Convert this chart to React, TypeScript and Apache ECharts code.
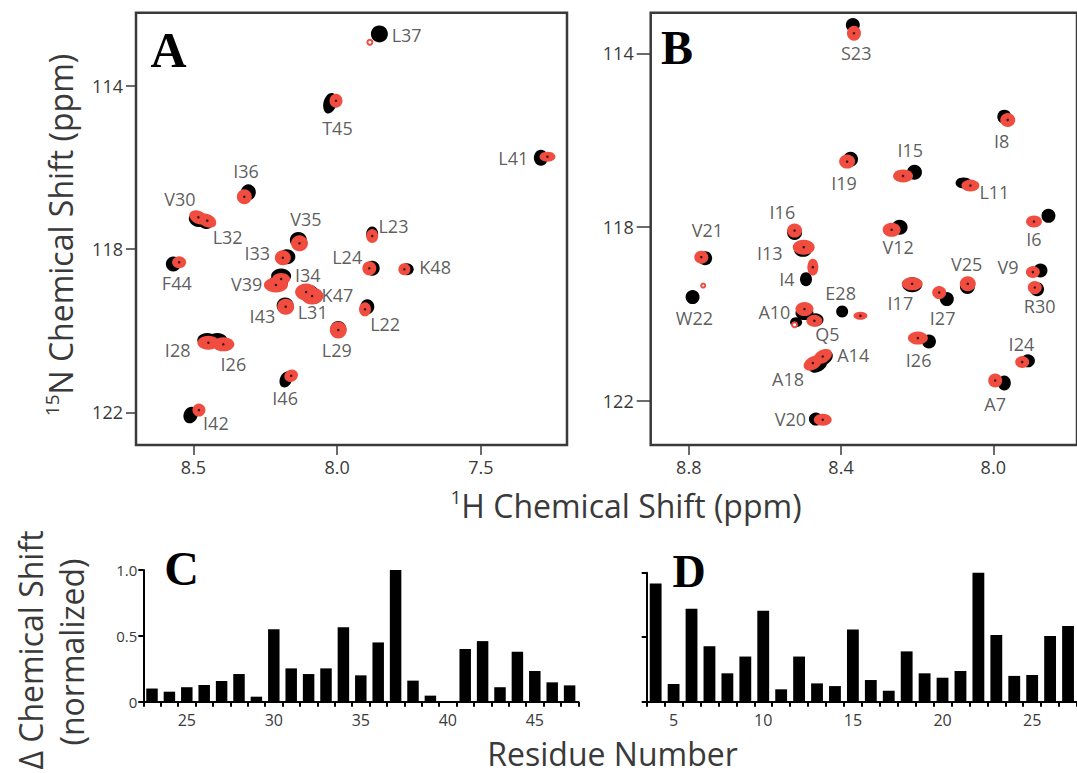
import React, { useEffect, useRef } from "react";
import * as echarts from "echarts";

const FONT = '"Open Sans", "Noto Sans", sans-serif';
const SERIF = '"Liberation Serif", "DejaVu Serif", serif';
const INK = "#3a3a3a";
const RED = "#f04c40";

// ---------- Panel A (residues 22-48) : [1H ppm, 15N ppm] ----------
const residuesA = ["L37", "T45", "L41", "I36", "V30", "L32", "V35", "I33", "L23", "L24", "K48", "F44", "I34", "V39", "K47", "L31", "I43", "L22", "L29", "I28", "I26", "I46", "I42"];
const blackA: [number, number][] = [
  [7.853, 112.72], [8.025, 114.42], [7.291, 115.756], [8.309, 116.604], [8.488, 117.283], [8.46, 117.332],
  [8.135, 117.774], [8.175, 118.183], [7.878, 117.627], [7.878, 118.468], [7.758, 118.492], [8.57, 118.362],
  [8.195, 118.657], [8.206, 118.828], [8.1, 119.066], [8.084, 119.147], [8.181, 119.38], [7.895, 119.409],
  [7.996, 119.956], [8.452, 120.226], [8.417, 120.226], [8.178, 121.19], [8.51, 122.065],
];
const redA: [number, number][] = [
  [7.886, 112.926], [8.004, 114.358], [7.268, 115.731], [8.323, 116.712], [8.483, 117.217], [8.452, 117.3],
  [8.131, 117.855], [8.189, 118.208], [7.878, 117.676], [7.888, 118.468], [7.766, 118.492], [8.55, 118.321],
  [8.195, 118.73], [8.213, 118.877], [8.108, 119.049], [8.087, 119.147], [8.179, 119.409], [7.903, 119.473],
  [7.996, 119.981], [8.448, 120.292], [8.396, 120.332], [8.16, 121.101], [8.481, 121.943],
];
const labelAtA: [number, number][] = [
  [7.758, 112.747], [7.999, 115.035], [7.387, 115.756], [8.317, 116.074], [8.547, 116.776], [8.381, 117.693],
  [8.109, 117.266], [8.278, 118.1], [7.804, 117.43], [7.965, 118.183], [7.659, 118.443], [8.558, 118.836],
  [8.102, 118.632], [8.315, 118.852], [7.999, 119.123], [8.085, 119.532], [8.26, 119.637], [7.833, 119.834],
  [8.001, 120.471], [8.555, 120.471], [8.361, 120.815], [8.181, 121.641], [8.422, 122.269],
];

// ---------- Panel B (residues 4-30) ----------
const residuesB = ["S23", "I8", "I19", "I15", "L11", "I6", "V12", "I16", "V21", "I13", "I4", "V25", "V9", "R30", "I17", "I27", "E28", "W22", "A10", "Q5", "A14", "A18", "I26", "I24", "A7", "V20"];
const blackB: [number, number][] = [
  [8.369, 113.343], [7.971, 115.455], [8.375, 116.436], [8.207, 116.735], [8.078, 116.981], [7.855, 117.741],
  [8.246, 118.001], [8.522, 118.126], [8.757, 118.715], [8.5, 118.524], [8.492, 119.199], [8.068, 119.369],
  [7.876, 119.0], [7.885, 119.429], [8.213, 119.33], [8.122, 119.659], [8.397, 119.945], [8.79, 119.613],
  [8.496, 119.981], [8.467, 120.136], [8.446, 121.018], [8.461, 121.172], [8.169, 120.635], [7.909, 121.08],
  [7.971, 121.593], [8.466, 122.422],
];
const redB: [number, number][] = [
  [8.366, 113.534], [7.962, 115.531], [8.384, 116.491], [8.237, 116.82], [8.06, 117.043], [7.893, 117.872],
  [8.267, 118.063], [8.522, 118.08], [8.767, 118.692], [8.498, 118.462], [8.474, 118.922], [8.067, 119.307],
  [7.896, 119.037], [7.891, 119.392], [8.213, 119.307], [8.142, 119.507], [8.349, 120.044], [8.762, 119.346],
  [8.496, 119.889], [8.47, 120.159], [8.448, 120.981], [8.474, 121.133], [8.198, 120.557], [7.924, 121.11],
  [7.995, 121.533], [8.448, 122.438],
];
const labelAtB: [number, number][] = [
  [8.36, 113.995], [7.978, 116.014], [8.392, 116.974], [8.218, 116.221], [7.997, 117.182], [7.893, 118.278],
  [8.25, 118.462], [8.554, 117.642], [8.751, 118.063], [8.587, 118.6], [8.542, 119.199], [8.07, 118.846],
  [7.961, 118.908], [7.878, 119.813], [8.244, 119.737], [8.133, 120.097], [8.401, 119.507], [8.785, 120.097],
  [8.575, 119.945], [8.436, 120.458], [8.368, 120.942], [8.539, 121.494], [8.196, 121.073], [7.926, 120.695],
  [7.995, 122.077], [8.533, 122.422],
];
const unassignedBlackB: [number, number][] = [[8.518, 120.19]];
const unassignedRedB: [number, number][] = [[8.522, 120.251]];

// ---------- Panels C and D ----------
const residuesC = [23, 24, 25, 26, 27, 28, 29, 30, 31, 32, 33, 34, 35, 36, 37, 38, 39, 40, 41, 42, 43, 44, 45, 46, 47];
const shiftC = [0.1, 0.076, 0.11, 0.127, 0.157, 0.21, 0.038, 0.55, 0.253, 0.21, 0.253, 0.565, 0.2, 0.45, 1.0, 0.16, 0.046, 0, 0.4, 0.46, 0.11, 0.38, 0.233, 0.147, 0.124];
const residuesD = [4, 5, 6, 7, 8, 9, 10, 11, 12, 13, 14, 15, 16, 17, 18, 19, 20, 21, 22, 23, 24, 25, 26, 27];
const shiftD = [0.917, 0.137, 0.72, 0.43, 0.22, 0.35, 0.705, 0.096, 0.35, 0.142, 0.121, 0.56, 0.168, 0.085, 0.39, 0.22, 0.186, 0.238, 1.0, 0.517, 0.2, 0.207, 0.51, 0.587];

const ticksA_H = [8.5, 8.0, 7.5];
const ticksB_H = [8.8, 8.4, 8.0];
const ticksN = [114, 118, 122];

// ---------- peak shapes (style, keyed by residue): [width, height, rotation°] ----------
type Shape = [number, number, number];
const blackShapeA: Record<string, Shape> = {
  L37: [17, 17, 0], T45: [13, 21, -15], L41: [14, 16, 0], I36: [15, 16, 0], V30: [17, 13, -25], L32: [17, 13, -25],
  V35: [17, 16, 0], I33: [17, 15, 0], L23: [12, 15, 0], L24: [15, 15, 0], K48: [14, 12, 0], F44: [15, 15, 0],
  I34: [20, 15, 0], V39: [20, 14, 0], K47: [20, 16, 0], L31: [20, 16, 0], I43: [17, 16, 0], L22: [14, 15, 0],
  L29: [16, 16, 0], I28: [20, 14, 0], I26: [20, 14, 0], I46: [12, 17, -25], I42: [14, 17, -20],
};
const redShapeA: Record<string, Shape> = {
  L37: [5, 5, 0], T45: [13, 14, 0], L41: [16, 10, 0], I36: [15, 15, 0], V30: [19, 13, -25], L32: [19, 13, -25],
  V35: [17, 16, 0], I33: [16, 15, 0], L23: [12, 14, 0], L24: [14, 14, 0], K48: [12, 12, 0], F44: [14, 12, 0],
  I34: [18, 12, 0], V39: [24, 15, 0], K47: [22, 17, 0], L31: [22, 17, 0], I43: [17, 16, 0], L22: [12, 14, 0],
  L29: [17, 17, 0], I28: [22, 14, 0], I26: [22, 14, 0], I46: [14, 12, 25], I42: [13, 13, 0],
};
const blackShapeB: Record<string, Shape> = {
  S23: [14, 14, 0], I8: [14, 14, 0], I19: [15, 15, 0], I15: [15, 15, 0], L11: [16, 11, 0], I6: [14, 14, 0],
  V12: [16, 15, 0], I16: [15, 15, 0], V21: [14, 14, 0], I13: [18, 14, 0], I4: [12, 14, 0], V25: [15, 15, 0],
  V9: [14, 14, 0], R30: [14, 14, 0], I17: [20, 15, 0], I27: [14, 14, 0], E28: [12, 12, 0], W22: [14, 14, 0],
  A10: [18, 14, 0], Q5: [16, 13, 0], A14: [20, 14, 30], A18: [20, 14, 30], I26: [14, 14, 0], I24: [14, 13, 0],
  A7: [13, 15, 0], V20: [14, 13, 0],
};
const redShapeB: Record<string, Shape> = {
  S23: [14, 15, 0], I8: [15, 14, 0], I19: [16, 14, 0], I15: [20, 13, 0], L11: [18, 12, 0], I6: [16, 12, 0],
  V12: [18, 14, 0], I16: [15, 14, 0], V21: [14, 13, 0], I13: [22, 15, 0], I4: [11, 17, 0], V25: [16, 15, 0],
  V9: [14, 12, 0], R30: [14, 13, 0], I17: [21, 13, 0], I27: [14, 13, 0], E28: [14, 8, 0], W22: [4, 4, 0],
  A10: [18, 14, 0], Q5: [16, 12, 0], A14: [20, 13, 30], A18: [20, 13, 30], I26: [20, 13, 0], I24: [14, 12, 0],
  A7: [14, 14, 0], V20: [18, 12, 0],
};
const ringPeaks = ["L37", "W22"];

function peaks(pts: [number, number][], names: string[], shapes: Record<string, Shape>, color: string) {
  return pts.map((p, i) => {
    const s = shapes[names[i]] || [14, 14, 0];
    const ring = color === RED && ringPeaks.includes(names[i]);
    return {
      name: names[i],
      value: p,
      symbol: ring ? "emptyCircle" : "circle",
      symbolSize: [s[0], s[1]],
      symbolRotate: s[2],
      itemStyle: ring ? { color: RED, borderColor: RED, borderWidth: 1.5, opacity: 1 } : { color, opacity: 1 },
    };
  });
}

function labels(pts: [number, number][], names: string[]) {
  return pts.map((p, i) => ({ name: names[i], value: p }));
}

function dots(pts: [number, number][], names: string[]) {
  return pts.filter((_, i) => !ringPeaks.includes(names[i])).map((p) => ({ value: p }));
}

function valueAxisH(grid: number, min: number, max: number, ticks: number[]) {
  return {
    gridIndex: grid, type: "value", min, max, inverse: true,
    axisLine: { show: false }, splitLine: { show: false },
    axisTick: { show: true, customValues: ticks, length: 10, lineStyle: { color: INK, width: 1.5 } },
    axisLabel: { customValues: ticks, formatter: (v: number) => v.toFixed(1), fontSize: 18, color: INK, fontFamily: FONT, margin: 13 },
  };
}
function valueAxisN(grid: number, min: number, max: number, tickLen: number) {
  return {
    gridIndex: grid, type: "value", min, max, inverse: true,
    axisLine: { show: false }, splitLine: { show: false },
    axisTick: { show: true, customValues: ticksN, length: tickLen, lineStyle: { color: INK, width: 1.5 } },
    axisLabel: { customValues: ticksN, formatter: (v: number) => String(v), fontSize: 18, color: INK, fontFamily: FONT, margin: tickLen + 3 },
  };
}
function barXAxis(grid: number, cats: number[]) {
  return {
    gridIndex: grid, type: "category", data: cats.map(String),
    axisLine: { show: true, lineStyle: { color: "#000", width: 2 } },
    axisTick: { show: true, interval: 0, length: 5, lineStyle: { color: "#000", width: 2 } },
    axisLabel: { interval: (_i: number, v: string) => Number(v) % 5 === 0, fontSize: 16, color: INK, fontFamily: FONT, margin: 10 },
  };
}
function barYAxis(grid: number, showLabels: boolean) {
  return {
    gridIndex: grid, type: "value", min: 0, max: 1, interval: 0.5,
    axisLine: { show: true, lineStyle: { color: "#000", width: 2 } },
    axisTick: { show: true, length: 5, lineStyle: { color: "#000", width: 2 } },
    splitLine: { show: false },
    axisLabel: { show: showLabels, formatter: (v: number) => (v === 0 ? "0" : v.toFixed(1)), fontSize: 15, color: INK, fontFamily: FONT, margin: 6 },
  };
}

const labelSeries = (grid: number, data: any[]) => ({
  type: "scatter", xAxisIndex: grid, yAxisIndex: grid, silent: true, z: 6, clip: false,
  symbol: "circle", symbolSize: 1, itemStyle: { color: "rgba(0,0,0,0)" },
  label: { show: true, position: "inside", formatter: "{b}", fontSize: 18, color: "#333", fontFamily: FONT },
  data,
});

const titleRich = {
  sup: { fontSize: 19, fontFamily: FONT, fill: INK, verticalAlign: "top", lineHeight: 36 },
  main: { fontSize: 32, fontFamily: FONT, fill: INK, verticalAlign: "middle", lineHeight: 36 },
};

export default function App() {
  const ref = useRef<HTMLDivElement>(null);
  useEffect(() => {
    if (!ref.current) return;
    const chart = echarts.init(ref.current, undefined, { renderer: "svg" });
    const option: any = {
      animation: false,
      backgroundColor: "#ffffff",
      grid: [
        { left: 136, top: 12.7, width: 431, height: 432.3, show: true, borderColor: INK, borderWidth: 2.5, backgroundColor: "transparent" },
        { left: 650.7, top: 12.7, width: 432.3, height: 432.3, show: true, borderColor: INK, borderWidth: 2.5, backgroundColor: "transparent" },
        { left: 143.3, top: 570, width: 435, height: 131.7 },
        { left: 646.7, top: 572.7, width: 432, height: 129 },
      ],
      xAxis: [
        valueAxisH(0, 7.2, 8.7, ticksA_H),
        valueAxisH(1, 7.78, 8.9, ticksB_H),
        barXAxis(2, residuesC),
        barXAxis(3, residuesD),
      ],
      yAxis: [
        valueAxisN(0, 112.2, 122.8, 10),
        valueAxisN(1, 113.06, 123.02, 14),
        barYAxis(2, true),
        barYAxis(3, false),
      ],
      series: [
        { type: "scatter", xAxisIndex: 0, yAxisIndex: 0, silent: true, z: 2, data: peaks(blackA, residuesA, blackShapeA, "#000") },
        { type: "scatter", xAxisIndex: 0, yAxisIndex: 0, silent: true, z: 3, data: peaks(redA, residuesA, redShapeA, RED) },
        { type: "scatter", xAxisIndex: 0, yAxisIndex: 0, silent: true, z: 4, symbolSize: 2.5, itemStyle: { color: "#3a1410", opacity: 1 }, data: dots(redA, residuesA) },
        labelSeries(0, labels(labelAtA, residuesA)),
        { type: "scatter", xAxisIndex: 1, yAxisIndex: 1, silent: true, z: 2, data: [...peaks(blackB, residuesB, blackShapeB, "#000"), ...unassignedBlackB.map((p) => ({ value: p, symbolSize: [12, 10], itemStyle: { color: "#000", opacity: 1 } }))] },
        { type: "scatter", xAxisIndex: 1, yAxisIndex: 1, silent: true, z: 3, data: [...peaks(redB, residuesB, redShapeB, RED), ...unassignedRedB.map((p) => ({ value: p, symbol: "emptyCircle", symbolSize: 5, itemStyle: { color: RED, borderColor: RED, borderWidth: 1.5, opacity: 1 } }))] },
        { type: "scatter", xAxisIndex: 1, yAxisIndex: 1, silent: true, z: 4, symbolSize: 2.5, itemStyle: { color: "#3a1410", opacity: 1 }, data: dots(redB, residuesB) },
        labelSeries(1, labels(labelAtB, residuesB)),
        { type: "bar", xAxisIndex: 2, yAxisIndex: 2, silent: true, barWidth: "66%", itemStyle: { color: "#000" }, data: shiftC },
        { type: "bar", xAxisIndex: 3, yAxisIndex: 3, silent: true, barWidth: "66%", itemStyle: { color: "#000" }, data: shiftD },
      ],
      graphic: [
        { type: "text", x: 168.5, y: 49.5, silent: true, style: { text: "A", fill: "#000", font: `bold 50px ${SERIF}`, align: "center", verticalAlign: "middle" } },
        { type: "text", x: 677, y: 47.5, silent: true, style: { text: "B", fill: "#000", font: `bold 48px ${SERIF}`, align: "center", verticalAlign: "middle" } },
        { type: "text", x: 181.7, y: 568.7, silent: true, style: { text: "C", fill: "#000", font: `bold 48px ${SERIF}`, align: "center", verticalAlign: "middle" } },
        { type: "text", x: 689, y: 571.7, silent: true, style: { text: "D", fill: "#000", font: `bold 46px ${SERIF}`, align: "center", verticalAlign: "middle" } },
        { type: "text", x: 626, y: 505, silent: true, style: { text: "{sup|1}{main|H Chemical Shift (ppm)}", rich: titleRich, align: "center", verticalAlign: "middle" } },
        { type: "text", x: 60, y: 235, rotation: Math.PI / 2, silent: true, style: { text: "{sup|15}{main|N Chemical Shift (ppm)}", rich: titleRich, align: "center", verticalAlign: "middle" } },
        { type: "text", x: 612.5, y: 753, silent: true, style: { text: "Residue Number", fill: INK, font: `32px ${FONT}`, align: "center", verticalAlign: "middle" } },
        { type: "text", x: 30.5, y: 650, rotation: Math.PI / 2, silent: true, style: { text: "Δ Chemical Shift", fill: INK, font: `32px ${FONT}`, align: "center", verticalAlign: "middle" } },
        { type: "text", x: 71, y: 652, rotation: Math.PI / 2, silent: true, style: { text: "(normalized)", fill: INK, font: `32px ${FONT}`, align: "center", verticalAlign: "middle" } },
      ],
    };
    chart.setOption(option);
    return () => chart.dispose();
  }, []);
  return <div ref={ref} style={{ position: "fixed", left: 0, top: 0, width: 1077, height: 773, background: "#fff" }} />;
}
